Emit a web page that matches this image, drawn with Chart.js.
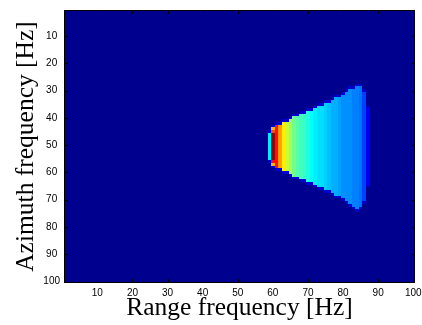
<!DOCTYPE html>
<html>
<head>
<meta charset="utf-8">
<title>Range / azimuth spectrum</title>
<script src="https://cdn.jsdelivr.net/npm/chart.js@4.4.1/dist/chart.umd.min.js"></script>
<style>
    html, body { margin: 0; padding: 0; background: #fff; }
    #wrap { width: 422px; height: 325px; }
</style>
</head>
<body>
<div id="wrap"><canvas id="specChart"></canvas></div>
<script>
// Tick labels on both axes
const xTicks = [10, 20, 30, 40, 50, 60, 70, 80, 90, 100];
const yTicks = [10, 20, 30, 40, 50, 60, 70, 80, 90, 100];

// Lit region of the spectrum, read column by column (range bin 59..87)
const colIndex = [59, 60, 61, 62, 63, 64, 65, 66, 67, 68, 69, 70, 71, 72, 73,
    74, 75, 76, 77, 78, 79, 80, 81, 82, 83, 84, 85, 86, 87];
const colLevel = [0.35, 0.97, 0.85, 0.72, 0.63, 0.56, 0.52, 0.48, 0.45, 0.43, 0.41, 0.39, 0.37, 0.355, 0.34,
    0.33, 0.315, 0.30, 0.29, 0.28, 0.27, 0.26, 0.255, 0.25, 0.245, 0.24, 0.23, 0.17, 0.10];
const colTop = [46, 44, 43, 43, 42, 42, 41, 40, 40, 39, 39, 38, 38, 37, 36,
    36, 35, 35, 34, 33, 33, 32, 31, 30, 30, 29, 29, 31, 37];
const colBottom = [55, 57, 58, 58, 59, 59, 60, 61, 61, 62, 62, 63, 63, 64, 65,
    65, 66, 66, 67, 68, 68, 69, 70, 71, 72, 73, 72, 70, 64];

// Leading edge (range bin 60), azimuth bins 44..57
const tipRows = [44, 45, 46, 47, 48, 49, 50, 51, 52, 53, 54, 55, 56, 57];
const tipLevel = [0.7, 0.8, 0.97, 0.97, 0.97, 0.97, 0.97, 0.97, 0.97, 0.97, 0.97, 0.97, 0.85, 0.7];

// Faint rim just outside the lit region
const rimLevel = 0.07;

// MATLAB jet(64)
function jet(v) {
    const k = 1 + Math.round(Math.max(0, Math.min(1, v)) * 63);
    const u = j => (j < 1 || j > 47) ? 0 : (j <= 16 ? j / 16 : (j <= 31 ? 1 : (48 - j) / 16));
    const r = k >= 25 ? u(k - 24) : 0;
    const g = (k >= 9 && k <= 55) ? u(k - 8) : 0;
    const b = k <= 39 ? u(k + 8) : 0;
    return 'rgb(' + Math.round(r * 255) + ',' + Math.round(g * 255) + ',' + Math.round(b * 255) + ')';
}

// Build the list of non-background cells
const cells = [];
colIndex.forEach((c, i) => {
    cells.push({ x: c, y: colTop[i] - 1, v: rimLevel });
    cells.push({ x: c, y: colBottom[i] + 1, v: rimLevel });
    for (let r = colTop[i]; r <= colBottom[i]; r++) {
        let v = colLevel[i];
        const t = tipRows.indexOf(r);
        if (c === 60 && t >= 0) v = tipLevel[t];
        cells.push({ x: c, y: r, v: v });
    }
});

const heatmapPlugin = {
    id: 'heatmap',
    beforeDatasetsDraw(chart) {
        const { ctx, chartArea: a, scales: { x, y } } = chart;
        ctx.save();
        ctx.fillStyle = jet(0);
        ctx.fillRect(a.left, a.top, a.right - a.left, a.bottom - a.top);
        chart.data.datasets[0].data.forEach(p => {
            const x0 = Math.round(x.getPixelForValue(p.x - 0.5));
            const x1 = Math.round(x.getPixelForValue(p.x + 0.5));
            const y0 = Math.round(y.getPixelForValue(p.y - 0.5));
            const y1 = Math.round(y.getPixelForValue(p.y + 0.5));
            ctx.fillStyle = jet(p.v);
            ctx.fillRect(Math.min(x0, x1), Math.min(y0, y1), Math.abs(x1 - x0), Math.abs(y1 - y0));
        });
        ctx.restore();
    },
    afterDraw(chart) {
        const { ctx, chartArea: a, scales: { x, y } } = chart;
        ctx.save();
        ctx.strokeStyle = '#000';
        ctx.lineWidth = 1;
        ctx.beginPath();
        xTicks.forEach(v => {
            const px = Math.round(x.getPixelForValue(v)) + 0.5;
            ctx.moveTo(px, a.bottom); ctx.lineTo(px, a.bottom - 4);
            ctx.moveTo(px, a.top); ctx.lineTo(px, a.top + 4);
        });
        yTicks.forEach(v => {
            const py = Math.round(y.getPixelForValue(v)) + 0.5;
            ctx.moveTo(a.left, py); ctx.lineTo(a.left + 4, py);
            ctx.moveTo(a.right, py); ctx.lineTo(a.right - 4, py);
        });
        ctx.stroke();
        ctx.strokeRect(Math.round(a.left) + 0.5, Math.round(a.top) + 0.5,
            Math.round(a.right - a.left) - 1, Math.round(a.bottom - a.top) - 1);
        ctx.restore();
    }
};

const tickFont = { family: '"Liberation Sans", Arial, sans-serif', size: 10 };
const titleFont = { family: '"Liberation Serif", "Times New Roman", serif', size: 25.5, lineHeight: 1 };

new Chart(document.getElementById('specChart'), {
    type: 'scatter',
    data: {
        datasets: [{
            data: cells,
            pointRadius: 0,
            pointHoverRadius: 0
        }]
    },
    plugins: [heatmapPlugin],
    options: {
        responsive: true,
        maintainAspectRatio: false,
        animation: false,
        events: [],
        layout: { padding: { left: 0, right: 7, top: 10, bottom: 0 } },
        plugins: {
            legend: { display: false },
            tooltip: { enabled: false }
        },
        scales: {
            x: {
                type: 'linear',
                min: 0.5,
                max: 100.5,
                afterBuildTicks: axis => { axis.ticks = xTicks.map(v => ({ value: v })); },
                afterFit: s => { s.height = 42; s.paddingLeft = 0; s.paddingRight = 0; },
                grid: { display: false, drawTicks: false },
                border: { display: false },
                ticks: { color: '#000', font: tickFont, padding: 4, maxRotation: 0 },
                title: {
                    display: true,
                    text: 'Range frequency [Hz]',
                    color: '#000',
                    font: titleFont,
                    padding: { top: 0, bottom: 4 }
                }
            },
            y: {
                type: 'linear',
                reverse: true,
                min: 0.5,
                max: 100.5,
                afterBuildTicks: axis => { axis.ticks = yTicks.map(v => ({ value: v })); },
                afterFit: s => { s.width = 64; s.paddingTop = 0; s.paddingBottom = 0; },
                grid: { display: false, drawTicks: false },
                border: { display: false },
                ticks: { color: '#000', font: tickFont, padding: 4, crossAlign: 'center' },
                title: {
                    display: true,
                    text: 'Azimuth frequency [Hz]',
                    color: '#000',
                    font: titleFont,
                    padding: { top: 14, bottom: 0 }
                }
            }
        }
    }
});
</script>
</body>
</html>
